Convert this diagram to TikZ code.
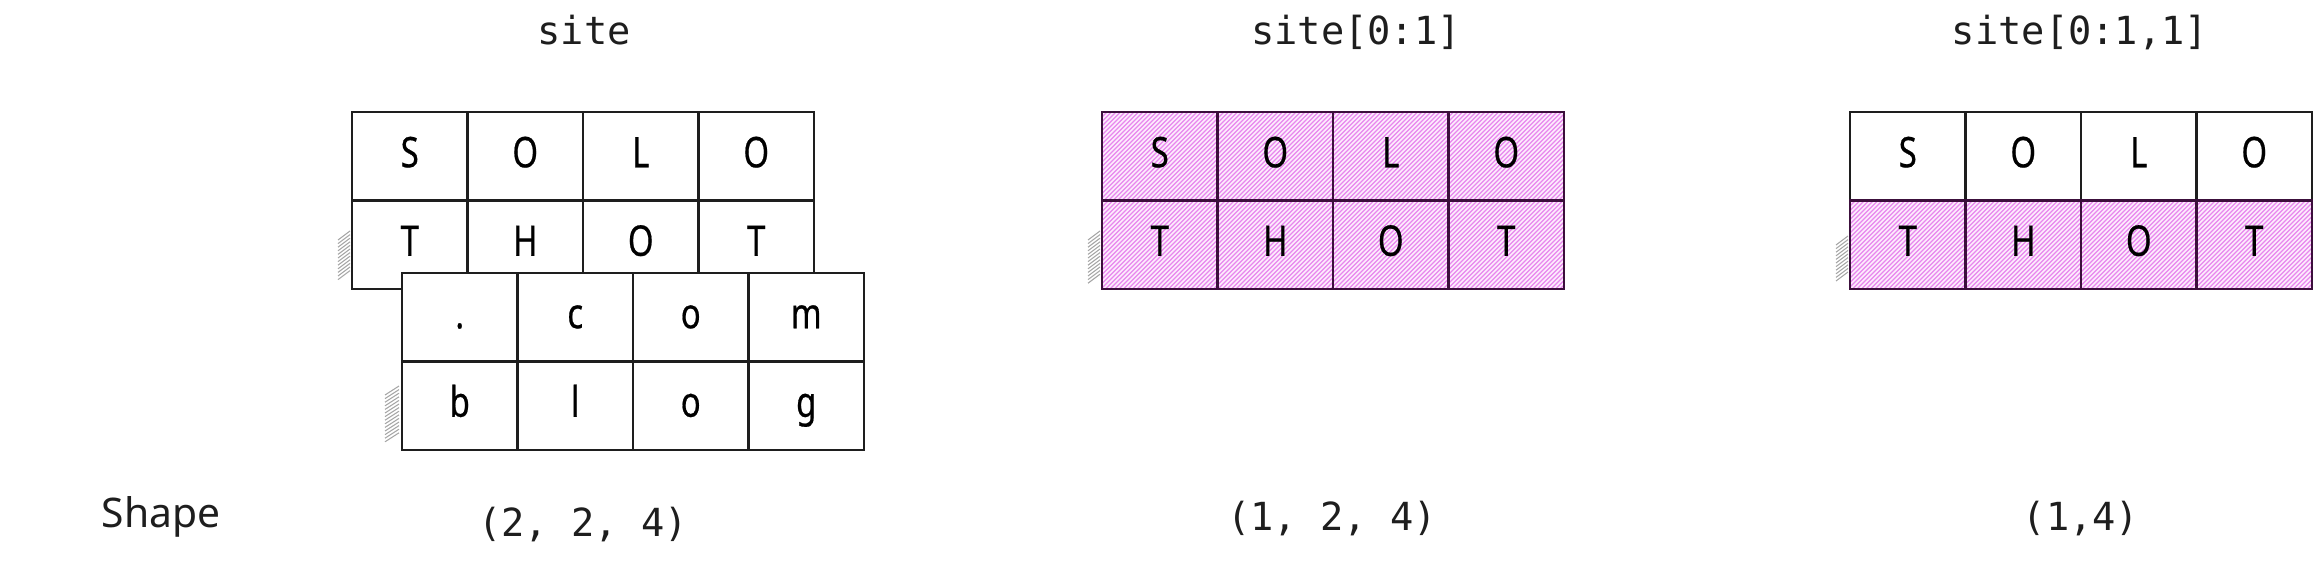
\documentclass[tikz,border=0pt]{standalone}
\usepackage{fontspec}
\setmainfont{Noto Sans}
\setmonofont{DejaVu Sans Mono}
\newfontfamily\cellfont[FakeStretch=0.78,FakeBold=0.5]{Noto Sans}
\usetikzlibrary{positioning}
\definecolor{ink}{RGB}{30,30,30}
\definecolor{hatchpink}{RGB}{232,135,238}
\definecolor{paleink}{RGB}{253,236,253}
\definecolor{plum}{RGB}{60,15,60}

\begin{document}
\begin{tikzpicture}[x=0.01cm,y=-0.01cm]
\tikzstyle{cell} = [draw=ink,fill=white,line width=0.6pt,minimum width=1.155cm,minimum height=0.885cm,
  inner sep=0pt,text height=0.22cm,text depth=0pt,font=\cellfont\fontsize{12}{12}\selectfont]
\tikzstyle{pinkcell} = [cell,fill=none,draw=plum]
\tikzstyle{title} = [anchor=base,text=ink,font=\ttfamily\fontsize{11}{11}\selectfont]
\tikzstyle{tick} = [gray!70,line width=0.3pt]
\tikzstyle{hatch} = [hatchpink,line width=0.32pt]
\def\w{115.5}
\def\h{88.5}
\useasboundingbox (0,0) rectangle (2313,564);
% site: back layer
\foreach \k in {0,...,11} \draw[tick] (338,{240+\k*3.6}) -- ++(12,-9);
\foreach \c/\t in {1/S,2/O,3/L,4/O} \node[cell] (a1\c) at ({352+(\c-0.5)*\w},{112+0.5*\h}) {\t};
\foreach \c/\t in {1/T,2/H,3/O,4/T} \node[cell] (a2\c) at ({352+(\c-0.5)*\w},{112+1.5*\h}) {\t};
% site: front layer
\foreach \k in {0,...,13} \draw[tick] (385,{395+\k*3.6}) -- ++(14,-9);
\foreach \c/\t in {1/.,2/c,3/o,4/m} \node[cell] (b1\c) at ({402+(\c-0.5)*\w},{273+0.5*\h}) {\t};
\foreach \c/\t in {1/b,2/l,3/o,4/g} \node[cell] (b2\c) at ({402+(\c-0.5)*\w},{273+1.5*\h}) {\t};
% site[0:1]
\foreach \k in {0,...,12} \draw[tick] (1088,{240+\k*3.6}) -- ++(12,-9);
\fill[paleink] (1102,112) rectangle ++(462,177);
\begin{scope}
\clip (1102,112) rectangle ++(462,177);
\foreach \i in {921,925.5,...,1566} \draw[hatch] (\i,289) -- ++(177,-177);
\end{scope}
\foreach \c/\t in {1/S,2/O,3/L,4/O} \node[pinkcell] (c1\c) at ({1102+(\c-0.5)*\w},{112+0.5*\h}) {\t};
\foreach \c/\t in {1/T,2/H,3/O,4/T} \node[pinkcell] (c2\c) at ({1102+(\c-0.5)*\w},{112+1.5*\h}) {\t};
% site[0:1,1]
\foreach \k in {0,...,10} \draw[tick] (1836,{245+\k*3.6}) -- ++(12,-9);
\fill[paleink] (1850,200.5) rectangle ++(462,88.5);
\begin{scope}
\clip (1850,200.5) rectangle ++(462,88.5);
\foreach \i in {1758,1762.5,...,2314} \draw[hatch] (\i,289) -- ++(89,-89);
\end{scope}
\foreach \c/\t in {1/S,2/O,3/L,4/O} \node[cell] (d1\c) at ({1850+(\c-0.5)*\w},{112+0.5*\h}) {\t};
\foreach \c/\t in {1/T,2/H,3/O,4/T} \node[pinkcell] (d2\c) at ({1850+(\c-0.5)*\w},{112+1.5*\h}) {\t};
% labels
\node[title] (tsite) at (584,45) {site};
\node[title] (tslice) at (1356,45) {site[0:1]};
\node[title] (tpick) at (2080,45) {site[0:1,1]};
\node[anchor=base,text=ink,font=\fontsize{11.6}{12}\selectfont] (shape) at (161,527) {Shape};
\node[title] (ssite) at (583,536) {(2, 2, 4)};
\node[title] (sslice) at (1332,530) {(1, 2, 4)};
\node[title] (spick) at (2081,530) {(1,4)};
\end{tikzpicture}
\end{document}
